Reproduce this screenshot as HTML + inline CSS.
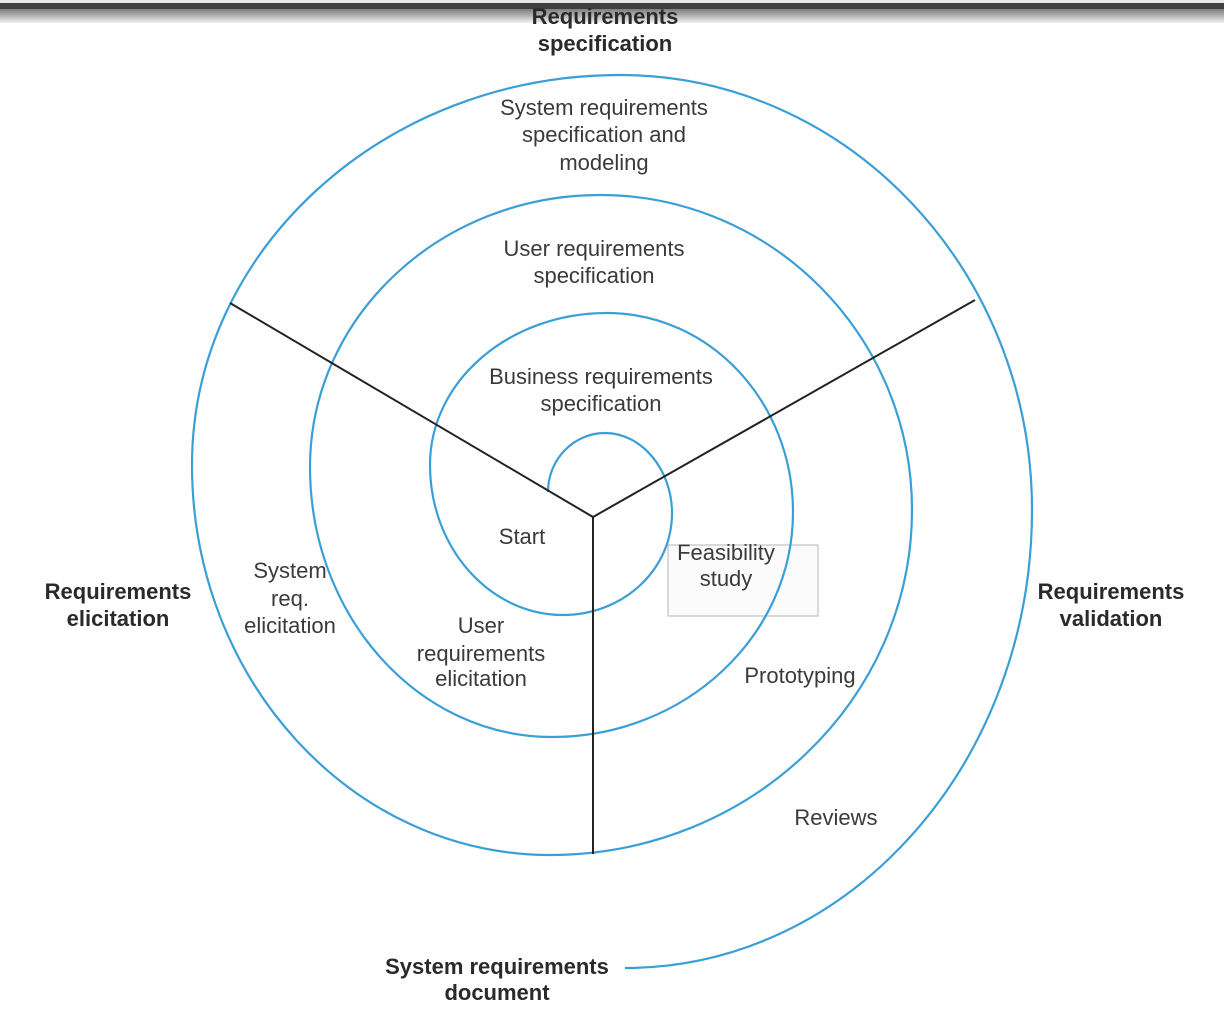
<!DOCTYPE html>
<html>
<head>
<meta charset="utf-8">
<style>
html,body{margin:0;padding:0;background:#fff;}
body{width:1224px;height:1032px;overflow:hidden;position:relative;}
.bar1{position:absolute;left:0;top:0;width:1224px;height:3px;background:#e6e6e6;}
.bar2{position:absolute;left:0;top:3px;width:1224px;height:6px;background:#404040;}
.bar3{position:absolute;left:0;top:9px;width:1224px;height:14px;background:linear-gradient(#7e7e7e,#b5b5b5 50%,#f2f2f2);}
svg{position:absolute;left:0;top:0;}
text{font-family:"Liberation Sans",sans-serif;font-size:22px;fill:#3a3a3a;text-anchor:middle;}
text.b{font-weight:bold;fill:#2a2a2a;}
</style>
</head>
<body>
<div class="bar1"></div>
<div class="bar2"></div>
<div class="bar3"></div>
<svg width="1224" height="1032" viewBox="0 0 1224 1032">
  <rect x="668" y="545" width="150" height="71" fill="#fbfbfb" stroke="#b4b4b4" stroke-width="1"/>
  <path d="M548,492
           C548,459 574,433 605,433
           C642,433 672,470 672,513
           C672,570 623,615 563,615
           C490,615 430,548 430,465
           C430,381 509,313 607,313
           C710,313 793,402 793,512
           C793,636 685,737 552,737
           C418,737 310,616 310,467
           C310,317 440,195 600,195
           C772,195 912,336 912,510
           C912,700 750,855 550,855
           C352,855 192,680 192,465
           C192,250 384,75 620,75
           C847,75 1032,270 1032,510
           C1032,763 850,968 625,968"
        fill="none" stroke="#3a9fd6" stroke-width="2.2"/>
  <line x1="593" y1="517" x2="230" y2="303" stroke="#222" stroke-width="2"/>
  <line x1="593" y1="517" x2="975" y2="300" stroke="#222" stroke-width="2"/>
  <line x1="593" y1="517" x2="593" y2="854" stroke="#222" stroke-width="2"/>

  <text class="b" x="605" y="24">Requirements</text>
  <text class="b" x="605" y="51">specification</text>

  <text x="604" y="115">System requirements</text>
  <text x="604" y="142">specification and</text>
  <text x="604" y="170">modeling</text>

  <text x="594" y="256">User requirements</text>
  <text x="594" y="283">specification</text>

  <text x="601" y="384">Business requirements</text>
  <text x="601" y="411">specification</text>

  <text x="522" y="544">Start</text>

  <text x="726" y="560">Feasibility</text>
  <text x="726" y="586">study</text>

  <text x="290" y="578">System</text>
  <text x="290" y="606">req.</text>
  <text x="290" y="633">elicitation</text>

  <text class="b" x="118" y="599">Requirements</text>
  <text class="b" x="118" y="626">elicitation</text>

  <text x="481" y="633">User</text>
  <text x="481" y="661">requirements</text>
  <text x="481" y="686">elicitation</text>

  <text x="800" y="683">Prototyping</text>

  <text class="b" x="1111" y="599">Requirements</text>
  <text class="b" x="1111" y="626">validation</text>

  <text x="836" y="825">Reviews</text>

  <text class="b" x="497" y="974">System requirements</text>
  <text class="b" x="497" y="1000">document</text>
</svg>
</body>
</html>
